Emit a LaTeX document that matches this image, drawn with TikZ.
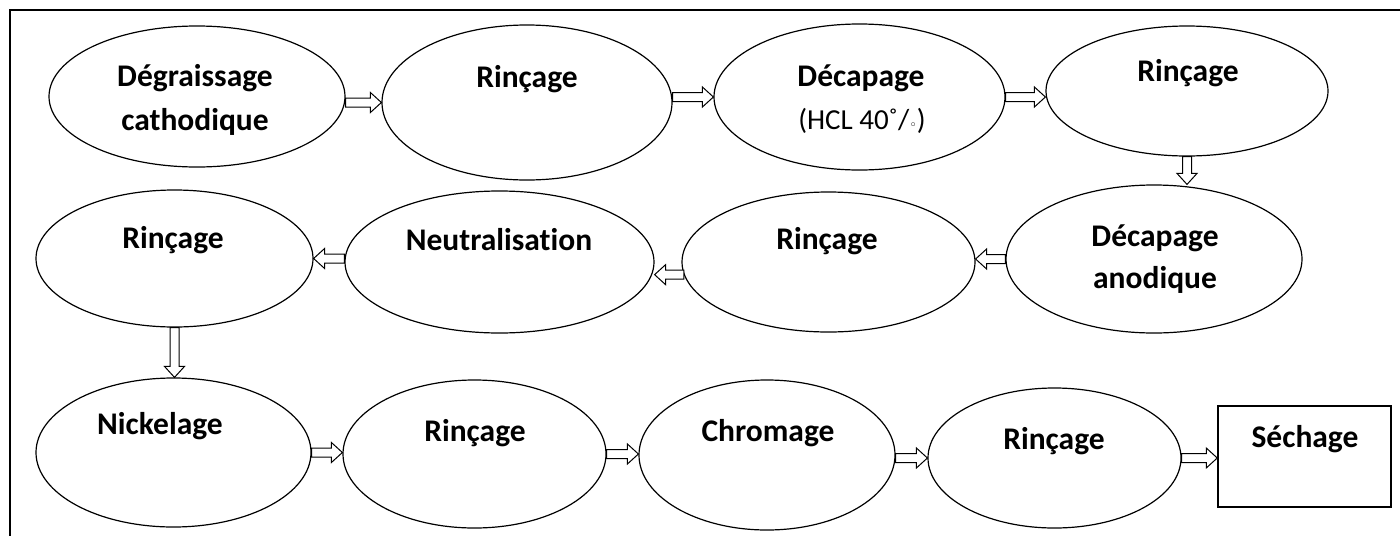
\documentclass[tikz,border=0pt]{standalone}
\usepackage{fontspec}
\setmainfont{Carlito}[Ligatures=CommonOff]
\newfontfamily\symbfont{DejaVu Sans}
\usetikzlibrary{shapes.geometric,calc}

\tikzset{
  stage/.style={ellipse, draw, line width=1.2pt, inner sep=0pt},
  lbl/.style={font=\fontsize{31.5}{36}\selectfont\bfseries, inner sep=0pt, anchor=base},
  note/.style={font=\fontsize{29}{34}\selectfont, inner sep=0pt, anchor=base},
  % hollow block arrow from start to target
  hollow/.style={draw, line width=1pt, fill=white, line join=miter, to path={
    ($(\tikztostart)!4.5pt!90:(\tikztotarget)$)
    -- ($(\tikztotarget)!11pt!(\tikztostart)!4.5pt!-90:(\tikztostart)$)
    -- ($(\tikztotarget)!11pt!(\tikztostart)!10pt!-90:(\tikztostart)$)
    -- (\tikztotarget)
    -- ($(\tikztotarget)!11pt!(\tikztostart)!10pt!90:(\tikztostart)$)
    -- ($(\tikztotarget)!11pt!(\tikztostart)!4.5pt!90:(\tikztostart)$)
    -- ($(\tikztostart)!4.5pt!-90:(\tikztotarget)$)
    -- cycle}}
}

\begin{document}
\begin{tikzpicture}[x=1pt,y=-1pt]
\useasboundingbox (0,0) rectangle (1400,536);

% frame
\draw[line width=1.8pt] (1400,10) -- (10,10) -- (10,536);

% first row
\node[stage, minimum width=296pt, minimum height=141pt] (e1) at (197,96.5) {};
\node[stage, minimum width=290pt, minimum height=155pt] (e2) at (527,102.5) {};
\node[stage, minimum width=291pt, minimum height=146pt] (e3) at (859.5,97) {};
\node[stage, minimum width=282pt, minimum height=130pt] (e4) at (1187,91) {};

% second row
\node[stage, minimum width=296pt, minimum height=148pt] (e5) at (1154,259) {};
\node[stage, minimum width=293pt, minimum height=140pt] (e6) at (828.5,262) {};
\node[stage, minimum width=309pt, minimum height=142pt] (e7) at (499.5,262) {};
\node[stage, minimum width=277pt, minimum height=137pt] (e8) at (174.5,258.5) {};

% third row
\node[stage, minimum width=275pt, minimum height=149pt] (e9) at (173.5,452.5) {};
\node[stage, minimum width=263pt, minimum height=148pt] (e10) at (474.5,454) {};
\node[stage, minimum width=256pt, minimum height=150pt] (e11) at (767,455) {};
\node[stage, minimum width=253pt, minimum height=140pt] (e12) at (1054.5,458) {};
\node[draw, line width=1.5pt, minimum width=173pt, minimum height=101pt, inner sep=0pt] (dry) at (1304.5,456.5) {};

% labels
\node[lbl] (t1a) at (195,86) {Dégraissage};
\node[lbl] (t1b) at (195,130) {cathodique};
\node[lbl] (t2) at (527,87) {Rinçage};
\node[lbl] (t3a) at (861,86) {Décapage};
\node[note] (t3b) at (862,129) {(HCL 40˚/{\symbfont\fontsize{13}{13}\selectfont ◦})};
\node[lbl] (t4) at (1188,81) {Rinçage};
\node[lbl] (t5a) at (1155,246) {Décapage};
\node[lbl] (t5b) at (1155,288) {anodique};
\node[lbl] (t6) at (827,249) {Rinçage};
\node[lbl] (t7) at (499,250) {Neutralisation};
\node[lbl] (t8) at (173,248) {Rinçage};
\node[lbl] (t9) at (160,434) {Nickelage};
\node[lbl] (t10) at (475,441) {Rinçage};
\node[lbl] (t11) at (768,441) {Chromage};
\node[lbl] (t12) at (1054,449) {Rinçage};
\node[lbl] (t13) at (1305,447) {Séchage};

% flow arrows
\draw[hollow] (e1.east |- e2.west) to (e2.west);
\draw[hollow] (e2.east |- e3.west) to (e3.west);
\draw[hollow] (e3.east) to (e4.west |- e3.east);
\draw[hollow] (e4.south) to (e4.south |- e5.north);
\draw[hollow] (e5.west) to (e6.east |- e5.west);
\draw[hollow] (e6.185) to (e7.east |- e6.185);
\draw[hollow] (e7.west |- e8.east) to (e8.east);
\draw[hollow] (e8.south) to (e8.south |- e9.north);
\draw[hollow] (e9.east) to (e10.west |- e9.east);
\draw[hollow] (e10.east) to (e11.west |- e10.east);
\draw[hollow] (e11.east |- e12.west) to (e12.west);
\draw[hollow] (e12.east) to (dry.west |- e12.east);
\end{tikzpicture}
\end{document}
